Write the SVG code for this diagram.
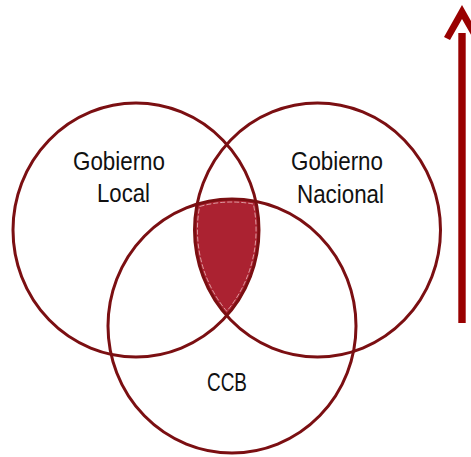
<svg xmlns="http://www.w3.org/2000/svg" width="471" height="457" viewBox="0 0 471 457">
<style>
.ring{fill:none;stroke:#7b0f12;stroke-width:3}
.lbl{font-family:"Liberation Sans",Arial,sans-serif;font-size:26px;fill:#111;text-anchor:middle}
</style>
<rect width="471" height="457" fill="#fff"/>
<g id="overlap">
<path d="M197.1 204.1 A124 127 0 0 1 255.9 201.4 A123 127 0 0 1 226.75 315.7 A123 127 0 0 1 197.1 204.1 Z" fill="#ab2231"/>
<path d="M199.6 206.5 A121 124 0 0 1 253.4 204 A120 124 0 0 1 226.75 311.2 A120 124 0 0 1 199.6 206.5 Z" fill="none" stroke="#f2d0d0" stroke-width="0.7" stroke-dasharray="5 2"/>
</g>
<g id="local">
<ellipse class="ring" cx="136" cy="230" rx="123" ry="127"/>
<text class="lbl" x="119" y="170" textLength="92" lengthAdjust="spacingAndGlyphs">Gobierno</text>
<text class="lbl" x="123.5" y="202" textLength="53" lengthAdjust="spacingAndGlyphs">Local</text>
</g>
<g id="nacional">
<ellipse class="ring" cx="317.5" cy="230" rx="123" ry="127"/>
<text class="lbl" x="337" y="169.5" textLength="92" lengthAdjust="spacingAndGlyphs">Gobierno</text>
<text class="lbl" x="340.5" y="202.5" textLength="87" lengthAdjust="spacingAndGlyphs">Nacional</text>
</g>
<g id="ccb">
<ellipse class="ring" cx="232" cy="326" rx="124" ry="127"/>
<text class="lbl" x="227" y="391" textLength="40" lengthAdjust="spacingAndGlyphs">CCB</text>
</g>
<g id="connectors">
<rect x="458.3" y="33" width="7.4" height="290" fill="#990000"/>
<polygon points="462,5 480,37 474,40 462,19 450,40 444,37" fill="#990000"/>
</g>
</svg>
